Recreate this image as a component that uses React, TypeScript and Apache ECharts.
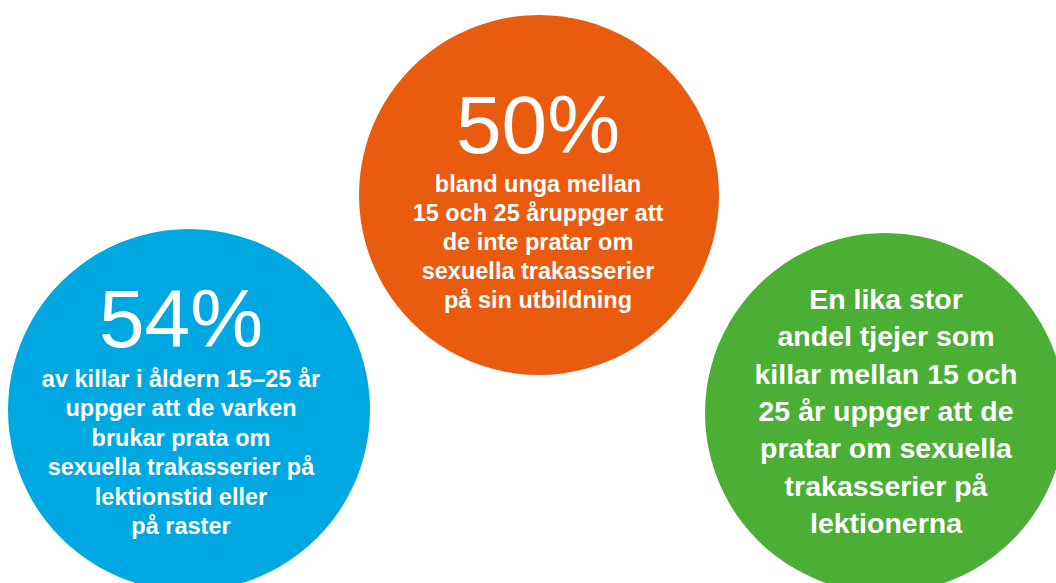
import React, { useEffect, useRef } from "react";
import * as echarts from "echarts";

// Content
const figures: string[] = ["54%", "50%", ""];
const blueLines: string[] = [
  "av killar i åldern 15–25 år",
  "uppger att de varken",
  "brukar prata om",
  "sexuella trakasserier på",
  "lektionstid eller",
  "på raster",
];
const orangeLines: string[] = [
  "bland unga mellan",
  "15 och 25 åruppger att",
  "de inte pratar om",
  "sexuella trakasserier",
  "på sin utbildning",
];
const greenLines: string[] = [
  "En lika stor",
  "andel tjejer som",
  "killar mellan 15 och",
  "25 år uppger att de",
  "pratar om sexuella",
  "trakasserier på",
  "lektionerna",
];
const bubbleColors: string[] = ["#00a8e1", "#e95b0f", "#4bae35"];

// Layout (pixels)
const layout = [
  { cx: 189, cy: 410, r: 181, tx: 181, figY: 318, bodyTop: 364, size: 23.5, lh: 29.5 },
  { cx: 539, cy: 195, r: 180, tx: 538, figY: 124, bodyTop: 169, size: 23.5, lh: 29 },
  { cx: 885, cy: 413, r: 180, tx: 886, figY: 0, bodyTop: 280, size: 28.5, lh: 37.4 },
];

export default function App() {
  const ref = useRef<HTMLDivElement>(null);
  useEffect(() => {
    document.body.style.margin = "0";
    const chart = echarts.init(ref.current!, null, { renderer: "svg" });
    const bodies = [blueLines, orangeLines, greenLines];
    const elements: any[] = [];
    layout.forEach((l, i) => {
      elements.push({
        type: "circle",
        shape: { cx: l.cx, cy: l.cy, r: l.r },
        style: { fill: bubbleColors[i] },
      });
      if (figures[i]) {
        elements.push({
          type: "text",
          x: l.tx,
          y: l.figY,
          style: {
            text: figures[i],
            fill: "#ffffff",
            font: `normal 82px "Liberation Sans", Arial, sans-serif`,
            textAlign: "center",
            textVerticalAlign: "middle",
          },
        });
      }
      elements.push({
        type: "text",
        x: l.tx,
        y: l.bodyTop,
        style: {
          text: bodies[i].join("\n"),
          fill: "#ffffff",
          font: `bold ${l.size}px "Liberation Sans", Arial, sans-serif`,
          lineHeight: l.lh,
          textAlign: "center",
          textVerticalAlign: "top",
        },
      });
    });
    chart.setOption({
      animation: false,
      backgroundColor: "#ffffff",
      graphic: { elements },
    });
    return () => chart.dispose();
  }, []);
  return <div ref={ref} style={{ width: 1056, height: 583 }} />;
}
